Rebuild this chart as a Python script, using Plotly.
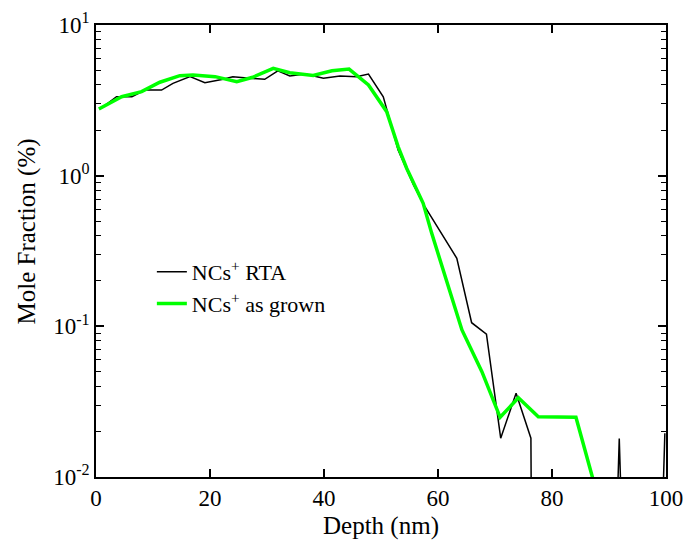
import plotly.graph_objects as go

# NCs+ RTA (black)
rta_depth = [0.7, 3.6, 6.3, 8.6, 11.5, 13.5, 16.5, 19.1, 22.3, 24.0, 27.0, 29.6, 31.9, 34.0,
             36.7, 39.9, 42.8, 45.7, 47.8, 50.4, 53.0, 55.7, 57.7, 63.3, 65.9, 68.5, 71.0,
             73.7, 76.3, 76.8, 79.4, 82.0, 84.6, 87.2, 89.2, 91.8, 94.4, 97.2, 99.8]
rta_frac = [2.77, 3.34, 3.34, 3.70, 3.70, 4.10, 4.54, 4.14, 4.36, 4.54, 4.43, 4.36, 4.97, 4.59,
            4.73, 4.43, 4.59, 4.54, 4.73, 3.34, 1.48, 0.867, 0.622, 0.283, 0.1057, 0.0886, 0.0181,
            0.0360, 0.0181, 1e-5, 1e-5, 1e-5, 1e-5, 1e-5, 1e-5, 0.018, 1e-5, 1e-5, 0.0195]

# NCs+ as grown (green)
grown_depth = [0.5, 4.5, 8.0, 11.2, 14.7, 17.0, 20.9, 24.7, 27.5, 31.1, 34.0, 35.8, 38.1,
               41.4, 44.4, 47.8, 51.0, 53.0, 54.5, 57.4, 58.9, 64.2, 67.7, 70.9, 74.1,
               77.6, 84.2, 87.6]
grown_frac = [2.77, 3.34, 3.61, 4.17, 4.61, 4.65, 4.54, 4.20, 4.50, 5.16, 4.82, 4.73, 4.63,
              4.97, 5.10, 4.00, 2.66, 1.56, 1.12, 0.656, 0.414, 0.0946, 0.050, 0.0249, 0.0336,
              0.0251, 0.0249, 0.0085]

y_tickvals = [0.01, 0.1, 1, 10]
y_ticktext = ["10<sup>-2</sup>", "10<sup>-1</sup>", "10<sup>0</sup>", "10<sup>1</sup>"]
x_tickvals = [0, 20, 40, 60, 80, 100]

FONT = "Liberation Serif, Times New Roman, serif"

fig = go.Figure()
fig.add_trace(go.Scatter(x=rta_depth, y=rta_frac, mode="lines",
                         name="NCs<sup>+</sup> RTA",
                         line=dict(color="black", width=1.5)))
fig.add_trace(go.Scatter(x=grown_depth, y=grown_frac, mode="lines",
                         name="NCs<sup>+</sup> as grown",
                         line=dict(color="#00ff00", width=3.5)))

axis_common = dict(showline=True, linecolor="black", linewidth=1.5, mirror="allticks",
                   ticks="inside", ticklen=8, tickwidth=1.5, tickcolor="black",
                   showgrid=False, zeroline=False, automargin=False,
                   tickfont=dict(family=FONT, size=23, color="black"))

fig.update_layout(
    width=687, height=545,
    margin=dict(l=96, r=21, t=25, b=68, pad=0, autoexpand=False),
    paper_bgcolor="white", plot_bgcolor="white",
    font=dict(family=FONT, color="black"),
    xaxis=dict(range=[0, 100], tickmode="array", tickvals=x_tickvals,
               title=dict(text="Depth (nm)", font=dict(family=FONT, size=25), standoff=6),
               **axis_common),
    yaxis=dict(type="log", range=[-2, 1], tickmode="array", tickvals=y_tickvals,
               ticktext=y_ticktext,
               minor=dict(ticks="inside", ticklen=5, tickwidth=1.2, tickcolor="black",
                          dtick="D1", showgrid=False),
               **axis_common),
    legend=dict(x=0.098, y=0.5, xanchor="left", yanchor="top",
                bgcolor="rgba(0,0,0,0)", borderwidth=0,
                font=dict(family=FONT, size=22, color="black"), tracegroupgap=0),
    showlegend=True,
    annotations=[dict(text="Mole Fraction (%)", xref="paper", yref="paper",
                      x=-0.121, y=(477 - 231.5) / 452, xanchor="center", yanchor="middle",
                      textangle=-90, showarrow=False,
                      font=dict(family=FONT, size=25, color="black"))],
)

fig.write_html("out.html")
